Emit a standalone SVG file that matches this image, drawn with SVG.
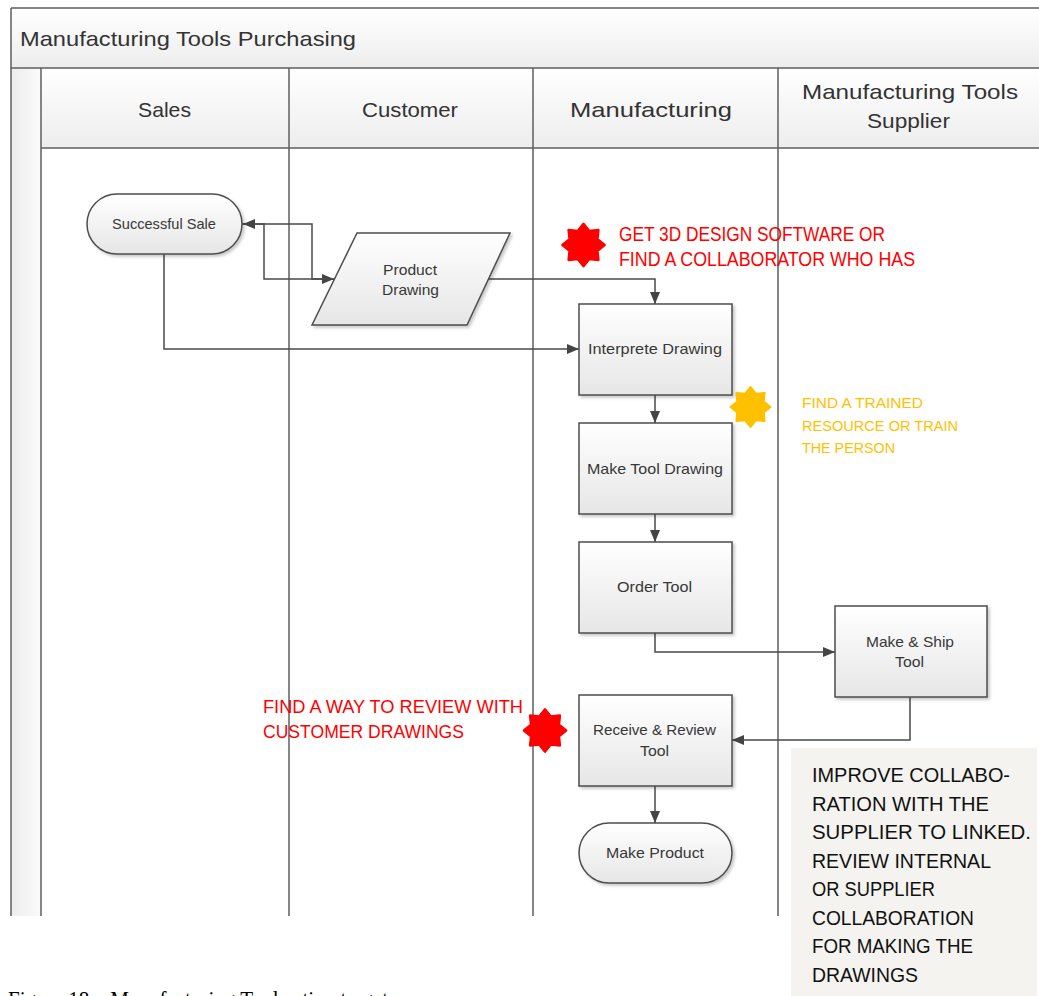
<svg xmlns="http://www.w3.org/2000/svg" xmlns:xlink="http://www.w3.org/1999/xlink" width="1039" height="996" viewBox="0 0 1039 996">
  <style>
    .frame { stroke: #5f5f5f; stroke-width: 1.5; fill: none; }
    .node { fill: url(#nodeFill); stroke: #4d4d4d; stroke-width: 1.5; filter: url(#shadow); }
    .label { font-family: "Liberation Sans", Arial, sans-serif; font-size: 15px; fill: #383838; }
    .lane { font-family: "Liberation Sans", Arial, sans-serif; font-size: 21px; fill: #333333; }
    .conn { fill: none; stroke: #4a4a4a; stroke-width: 1.5; marker-end: url(#arrow); }
    .red { font-family: "Liberation Sans", Arial, sans-serif; fill: #ff0000; }
    .amber { font-family: "Liberation Sans", Arial, sans-serif; fill: #ffc000; font-size: 15.5px; }
    .note { font-family: "Liberation Sans", Arial, sans-serif; font-size: 21px; fill: #111111; }
  </style>
  <defs>
    <linearGradient id="nodeFill" x1="0" y1="0" x2="0" y2="1">
      <stop offset="0" stop-color="#ffffff"/>
      <stop offset="1" stop-color="#e6e6e6"/>
    </linearGradient>
    <linearGradient id="headFill" x1="0" y1="0" x2="0" y2="1">
      <stop offset="0" stop-color="#ffffff"/>
      <stop offset="1" stop-color="#ededed"/>
    </linearGradient>
    <linearGradient id="stripFill" x1="0" y1="0" x2="1" y2="0">
      <stop offset="0" stop-color="#ececec"/>
      <stop offset="1" stop-color="#fbfbfb"/>
    </linearGradient>
    <filter id="shadow" x="-10%" y="-10%" width="125%" height="130%">
      <feDropShadow dx="2" dy="2" stdDeviation="1.5" flood-color="#000" flood-opacity="0.22"/>
    </filter>
    <marker id="arrow" markerUnits="userSpaceOnUse" markerWidth="13" markerHeight="11" refX="12" refY="5" orient="auto">
      <path d="M0,0 L12,5 L0,10 Z" fill="#444444"/>
    </marker>
    <!-- eight-point star, outer radius 22 -->
    <polygon id="star8" points="0,-22 6.05,-14.6 15.56,-15.56 14.6,-6.05 22,0 14.6,6.05 15.56,15.56 6.05,14.6 0,22 -6.05,14.6 -15.56,15.56 -14.6,6.05 -22,0 -14.6,-6.05 -15.56,-15.56 -6.05,-14.6" stroke-linejoin="round" stroke-width="2.5"/>
  </defs>

  <rect width="1039" height="996" fill="#ffffff"/>

  <!-- pool and lane headers -->
  <g id="pool">
    <rect x="11" y="8" width="1040" height="60" fill="url(#headFill)"/>
    <rect x="11" y="68" width="30" height="848" fill="url(#stripFill)"/>
    <rect x="41" y="68" width="1000" height="80" fill="url(#headFill)"/>
    <path class="frame" d="M11,8 H1039 M11,68 H1039 M41,148 H1039 M11,8 V916 M41,68 V916 M289,68 V916 M533,68 V916 M778,68 V916"/>
    <text class="lane" x="20" y="46" font-size="23" textLength="336" lengthAdjust="spacingAndGlyphs">Manufacturing Tools Purchasing</text>
    <text class="lane" x="138" y="117" textLength="53" lengthAdjust="spacingAndGlyphs">Sales</text>
    <text class="lane" x="362" y="117" textLength="96" lengthAdjust="spacingAndGlyphs">Customer</text>
    <text class="lane" x="570" y="117" textLength="162" lengthAdjust="spacingAndGlyphs">Manufacturing</text>
    <text class="lane" x="802" y="99" textLength="216" lengthAdjust="spacingAndGlyphs">Manufacturing Tools</text>
    <text class="lane" x="867" y="128" textLength="83" lengthAdjust="spacingAndGlyphs">Supplier</text>
  </g>

  <!-- connectors -->
  <g id="connectors">
    <path class="conn" d="M242,224 H264 V279 H334"/>
    <path class="conn" d="M334,279 H312 V224 H243"/>
    <path class="conn" d="M488,279 H655 V304"/>
    <path class="conn" d="M164,254 V349 H579"/>
    <path class="conn" d="M655,395 V423"/>
    <path class="conn" d="M655,514 V542"/>
    <path class="conn" d="M655,633 V652 H835"/>
    <path class="conn" d="M910,697 V740 H732"/>
    <path class="conn" d="M655,786 V823"/>
  </g>

  <!-- nodes -->
  <g id="successful-sale">
    <rect class="node" x="87" y="194" width="155" height="60" rx="30" ry="30"/>
    <text class="label" x="112" y="229" textLength="104" lengthAdjust="spacingAndGlyphs">Successful Sale</text>
  </g>
  <g id="product-drawing">
    <polygon class="node" points="357,233 510,233 467,325 312,325"/>
    <text class="label" x="383" y="275" textLength="54" lengthAdjust="spacingAndGlyphs">Product</text>
    <text class="label" x="382" y="295" textLength="57" lengthAdjust="spacingAndGlyphs">Drawing</text>
  </g>
  <g id="interprete-drawing">
    <rect class="node" x="579" y="304" width="153" height="91"/>
    <text class="label" x="588" y="354" textLength="134" lengthAdjust="spacingAndGlyphs">Interprete Drawing</text>
  </g>
  <g id="make-tool-drawing">
    <rect class="node" x="579" y="423" width="153" height="91"/>
    <text class="label" x="587" y="474" textLength="136" lengthAdjust="spacingAndGlyphs">Make Tool Drawing</text>
  </g>
  <g id="order-tool">
    <rect class="node" x="579" y="542" width="153" height="91"/>
    <text class="label" x="617" y="592" textLength="75" lengthAdjust="spacingAndGlyphs">Order Tool</text>
  </g>
  <g id="make-ship-tool">
    <rect class="node" x="835" y="606" width="152" height="91"/>
    <text class="label" x="866" y="647" textLength="88" lengthAdjust="spacingAndGlyphs">Make &amp; Ship</text>
    <text class="label" x="895" y="667" textLength="29" lengthAdjust="spacingAndGlyphs">Tool</text>
  </g>
  <g id="receive-review-tool">
    <rect class="node" x="579" y="695" width="153" height="91"/>
    <text class="label" x="593" y="735" textLength="123" lengthAdjust="spacingAndGlyphs">Receive &amp; Review</text>
    <text class="label" x="640" y="756" textLength="29" lengthAdjust="spacingAndGlyphs">Tool</text>
  </g>
  <g id="make-product">
    <rect class="node" x="579" y="823" width="153" height="60" rx="30" ry="30"/>
    <text class="label" x="606" y="858" textLength="98" lengthAdjust="spacingAndGlyphs">Make Product</text>
  </g>

  <!-- improvement callouts -->
  <g id="callout-design-software">
    <use xlink:href="#star8" href="#star8" transform="translate(583.5,245) scale(0.96)" fill="#ff0000" stroke="#ff0000"/>
    <text class="red" x="619" y="241" font-size="19.5" textLength="266" lengthAdjust="spacingAndGlyphs">GET 3D DESIGN SOFTWARE OR</text>
    <text class="red" x="619" y="266" font-size="19.5" textLength="296" lengthAdjust="spacingAndGlyphs">FIND A COLLABORATOR WHO HAS</text>
  </g>
  <g id="callout-training">
    <use xlink:href="#star8" href="#star8" transform="translate(750.5,407) scale(0.9)" fill="#ffc000" stroke="#ffc000"/>
    <text class="amber" x="802" y="408" textLength="121" lengthAdjust="spacingAndGlyphs">FIND A TRAINED</text>
    <text class="amber" x="802" y="431" textLength="156" lengthAdjust="spacingAndGlyphs">RESOURCE OR TRAIN</text>
    <text class="amber" x="802" y="453" textLength="93" lengthAdjust="spacingAndGlyphs">THE PERSON</text>
  </g>
  <g id="callout-review">
    <use xlink:href="#star8" href="#star8" transform="translate(545,730.5) scale(0.96)" fill="#ff0000" stroke="#ff0000"/>
    <text class="red" x="263" y="713" font-size="18" textLength="260" lengthAdjust="spacingAndGlyphs">FIND A WAY TO REVIEW WITH</text>
    <text class="red" x="263" y="738" font-size="18" textLength="201" lengthAdjust="spacingAndGlyphs">CUSTOMER DRAWINGS</text>
  </g>
  <g id="note-collaboration">
    <rect x="791" y="748" width="246" height="250" fill="#f4f3ef"/>
    <text class="note" x="812" y="782" textLength="198" lengthAdjust="spacingAndGlyphs">IMPROVE COLLABO-</text>
    <text class="note" x="812" y="810.5" textLength="177" lengthAdjust="spacingAndGlyphs">RATION WITH THE</text>
    <text class="note" x="812" y="839" textLength="219" lengthAdjust="spacingAndGlyphs">SUPPLIER TO LINKED.</text>
    <text class="note" x="812" y="868" textLength="179" lengthAdjust="spacingAndGlyphs">REVIEW INTERNAL</text>
    <text class="note" x="812" y="896" textLength="123" lengthAdjust="spacingAndGlyphs">OR SUPPLIER</text>
    <text class="note" x="812" y="925" textLength="162" lengthAdjust="spacingAndGlyphs">COLLABORATION</text>
    <text class="note" x="812" y="953" textLength="161" lengthAdjust="spacingAndGlyphs">FOR MAKING THE</text>
    <text class="note" x="812" y="982" textLength="106" lengthAdjust="spacingAndGlyphs">DRAWINGS</text>
  </g>

  <!-- figure caption, runs past the lower edge -->
  <text x="8" y="1007" font-family="'Liberation Serif', 'Times New Roman', serif" font-size="24" fill="#000000" textLength="380" lengthAdjust="spacingAndGlyphs">Figure 18 – Manufacturing Tool action target</text>
</svg>
